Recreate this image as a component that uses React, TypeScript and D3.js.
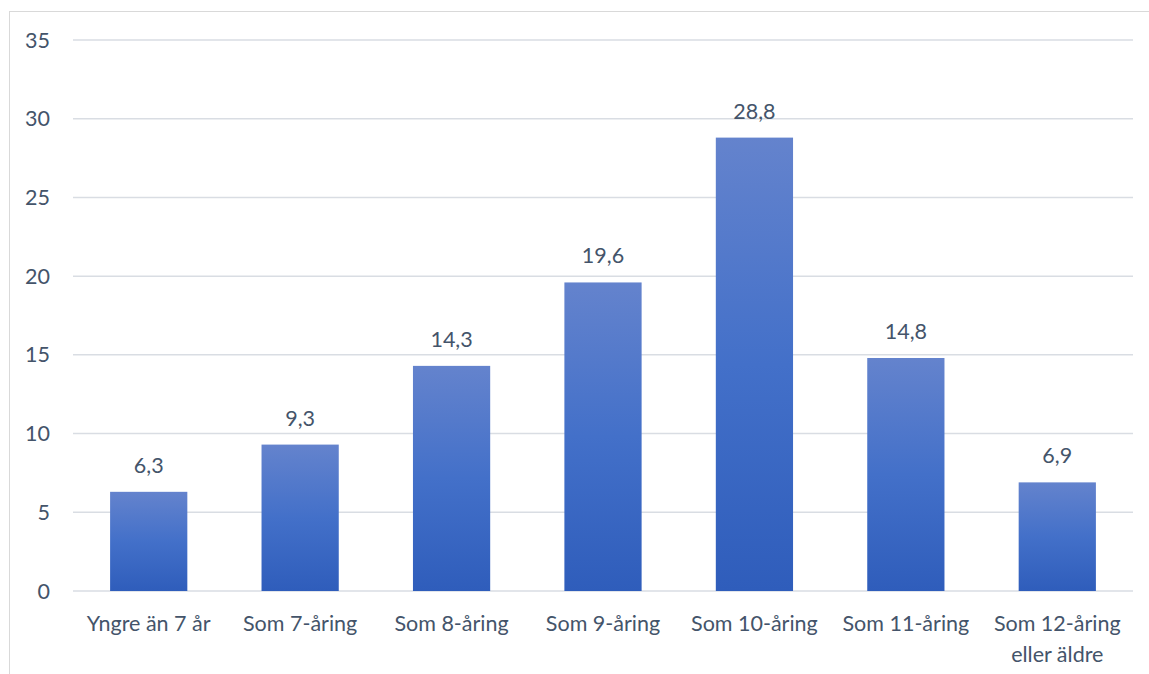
import React from "react";
import * as d3 from "d3";

const categories = [
  ["Yngre än 7 år"],
  ["Som 7-åring"],
  ["Som 8-åring"],
  ["Som 9-åring"],
  ["Som 10-åring"],
  ["Som 11-åring"],
  ["Som 12-åring", "eller äldre"],
];
const values = [6.3, 9.3, 14.3, 19.6, 28.8, 14.8, 6.9];
const yTicks = [0, 5, 10, 15, 20, 25, 30, 35];

const width = 1149;
const height = 674;
const margin = { top: 40, right: 16, bottom: 83, left: 73 };
const textColor = "#44546a";
const font = "Lato, 'Open Sans', sans-serif";
const fs = 21.5;

const App = () => {
  const x = d3
    .scaleBand()
    .domain(categories.map((c) => c.join(" ")))
    .range([margin.left, width - margin.right])
    .paddingInner(0.49)
    .paddingOuter(0.245);

  const y = d3
    .scaleLinear()
    .domain([0, 35])
    .range([height - margin.bottom, margin.top]);

  const fmt = (v: number) => v.toFixed(1).replace(".", ",");

  return (
    <svg
      width={width}
      height={height}
      style={{ position: "absolute", left: 0, top: 0, background: "#fff" }}
    >
      <defs>
        <linearGradient id="barGrad" x1="0" y1="0" x2="0" y2="1">
          <stop offset="0%" stopColor="#6483cd" />
          <stop offset="50%" stopColor="#4370c9" />
          <stop offset="100%" stopColor="#2f5dbb" />
        </linearGradient>
      </defs>
      <rect x={9.5} y={11.5} width={1160} height={700} fill="none" stroke="#d9d9d9" />

      {/* gridlines + y labels */}
      {yTicks.map((t) => (
        <g key={t}>
          <line
            x1={margin.left}
            x2={width - margin.right}
            y1={y(t)}
            y2={y(t)}
            stroke="#d9dde3"
            strokeWidth={1.5}
          />
          <text
            x={50}
            y={y(t)}
            dy="0.35em"
            textAnchor="end"
            fontFamily={font}
            fontSize={fs}
            fill={textColor}
          >
            {t}
          </text>
        </g>
      ))}

      {/* bars */}
      {categories.map((c, i) => {
        const key = c.join(" ");
        const bx = x(key)!;
        return (
          <g key={key}>
            <rect
              x={bx}
              y={y(values[i])}
              width={x.bandwidth()}
              height={y(0) - y(values[i])}
              fill="url(#barGrad)"
            />
            <text
              x={bx + x.bandwidth() / 2}
              y={y(values[i]) - 19}
              textAnchor="middle"
              fontFamily={font}
              fontSize={fs}
              fill={textColor}
            >
              {fmt(values[i])}
            </text>
            {c.map((line, j) => (
              <text
                key={j}
                x={bx + x.bandwidth() / 2}
                y={y(0) + 40 + j * 31}
                textAnchor="middle"
                fontFamily={font}
                fontSize={fs}
                fill={textColor}
              >
                {line}
              </text>
            ))}
          </g>
        );
      })}
    </svg>
  );
};

export default App;
